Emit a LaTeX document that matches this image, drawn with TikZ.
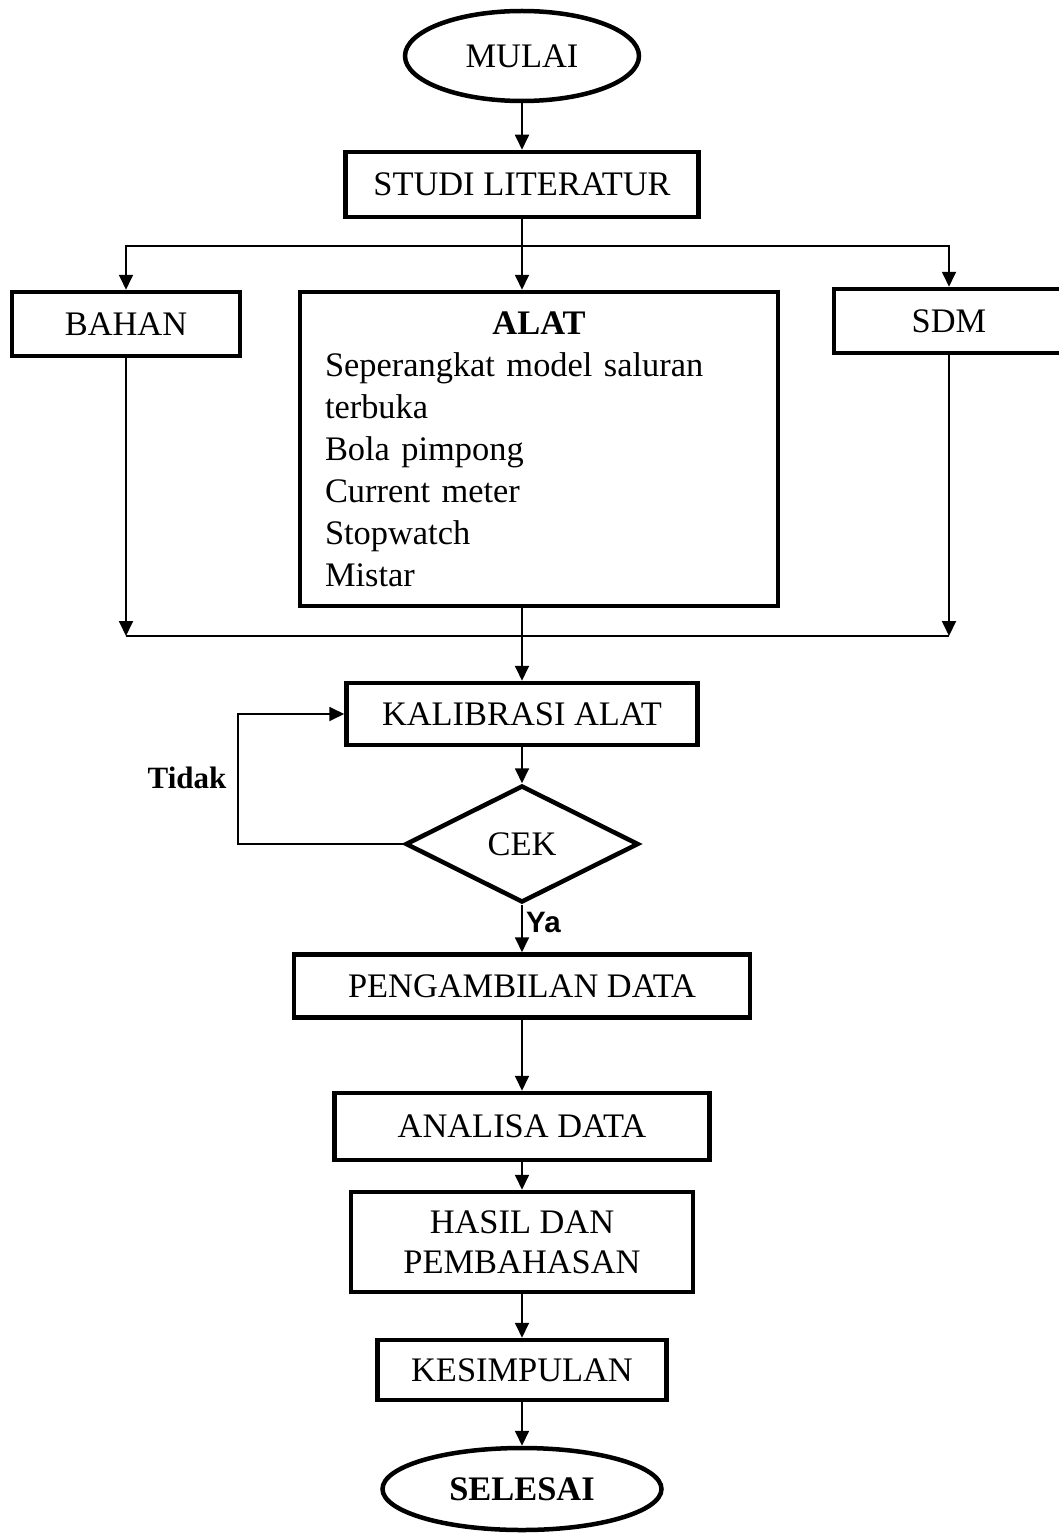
\documentclass[tikz,border=0pt]{standalone}
\usepackage{fontspec}
\setmainfont{Liberation Serif}
\newfontfamily\sansb{Liberation Sans}
\usetikzlibrary{shapes.geometric,arrows.meta}
\begin{document}
\begin{tikzpicture}[x=1pt,y=-1pt,
  base/.style={font=\fontsize{34.4}{40}\selectfont, inner sep=0pt},
  box/.style={base, draw, line width=4.5pt, rectangle},
  term/.style={base, draw, line width=4.5pt, ellipse},
  dec/.style={base, draw, line width=4.5pt, diamond, aspect=2},
  conn/.style={line width=1.8pt},
  arr/.style={conn, -{Triangle[length=15pt,width=14pt]}},
]
\useasboundingbox (0,0) rectangle (1058,1533);
\node[term, minimum width=234, minimum height=90] (mulai) at (522,56) {MULAI};
\node[box, minimum width=353, minimum height=65] (studi) at (522,184.5) {STUDI LITERATUR};
\node[box, minimum width=228, minimum height=64] (bahan) at (126,324) {BAHAN};
\node[box, minimum width=478, minimum height=314] (alat) at (539,449) {};
\node[base, font=\fontsize{34.4}{42}\selectfont, anchor=north, text width=428, align=left] (alattxt) at (539,312)
  {{\centering\textbf{ALAT}\par}Seperangkat model saluran\\terbuka\\Bola pimpong\\Current meter\\Stopwatch\\Mistar};
\node[box, minimum width=230, minimum height=64] (sdm) at (949,321) {SDM};
\node[box, minimum width=351, minimum height=62] (kal) at (522,714) {KALIBRASI ALAT};
\node[dec, minimum width=233, minimum height=117] (cek) at (522,844) {CEK};
\node[box, minimum width=456, minimum height=63] (peng) at (522,986) {PENGAMBILAN DATA};
\node[box, minimum width=375, minimum height=67] (ana) at (522,1126.5) {ANALISA DATA};
\node[box, minimum width=342, minimum height=100, align=center] (hasil) at (522,1242) {HASIL DAN\\PEMBAHASAN};
\node[box, minimum width=289, minimum height=60] (kes) at (522,1370) {KESIMPULAN};
\node[term, minimum width=279, minimum height=82, font=\fontsize{34.4}{40}\selectfont\bfseries] (selesai) at (522,1489) {SELESAI};
\node[base, font=\fontsize{31}{36}\selectfont\bfseries] (tidak) at (187,778) {Tidak};
\node[base, font=\sansb\fontsize{29.5}{34}\selectfont\bfseries, anchor=west] (ya) at (526,922) {Ya};

\draw[arr] (mulai) -- (studi);
\coordinate (br) at (studi.south |- 0,246);
\draw[arr] (studi) -- (studi.south |- alat.north);
\draw[arr] (br) -| (bahan.north);
\draw[arr] (br) -| (sdm.north);
\coordinate (jl) at (bahan.south |- 0,636);
\coordinate (jr) at (sdm.south |- 0,636);
\draw[arr] (bahan.south) -- (jl);
\draw[arr] (sdm.south) -- (jr);
\draw[conn] (jl) -- (jr);
\draw[arr] (kal.north |- alat.south) -- (kal.north);
\draw[arr] (kal) -- (cek);
\draw[arr] (cek.west) -- ++(-165,0) |- (kal.west);
\draw[arr] (cek) -- (peng);
\draw[arr] (peng) -- (ana);
\draw[arr] (ana) -- (hasil);
\draw[arr] (hasil) -- (kes);
\draw[arr] (kes) -- (selesai);
\end{tikzpicture}
\end{document}
